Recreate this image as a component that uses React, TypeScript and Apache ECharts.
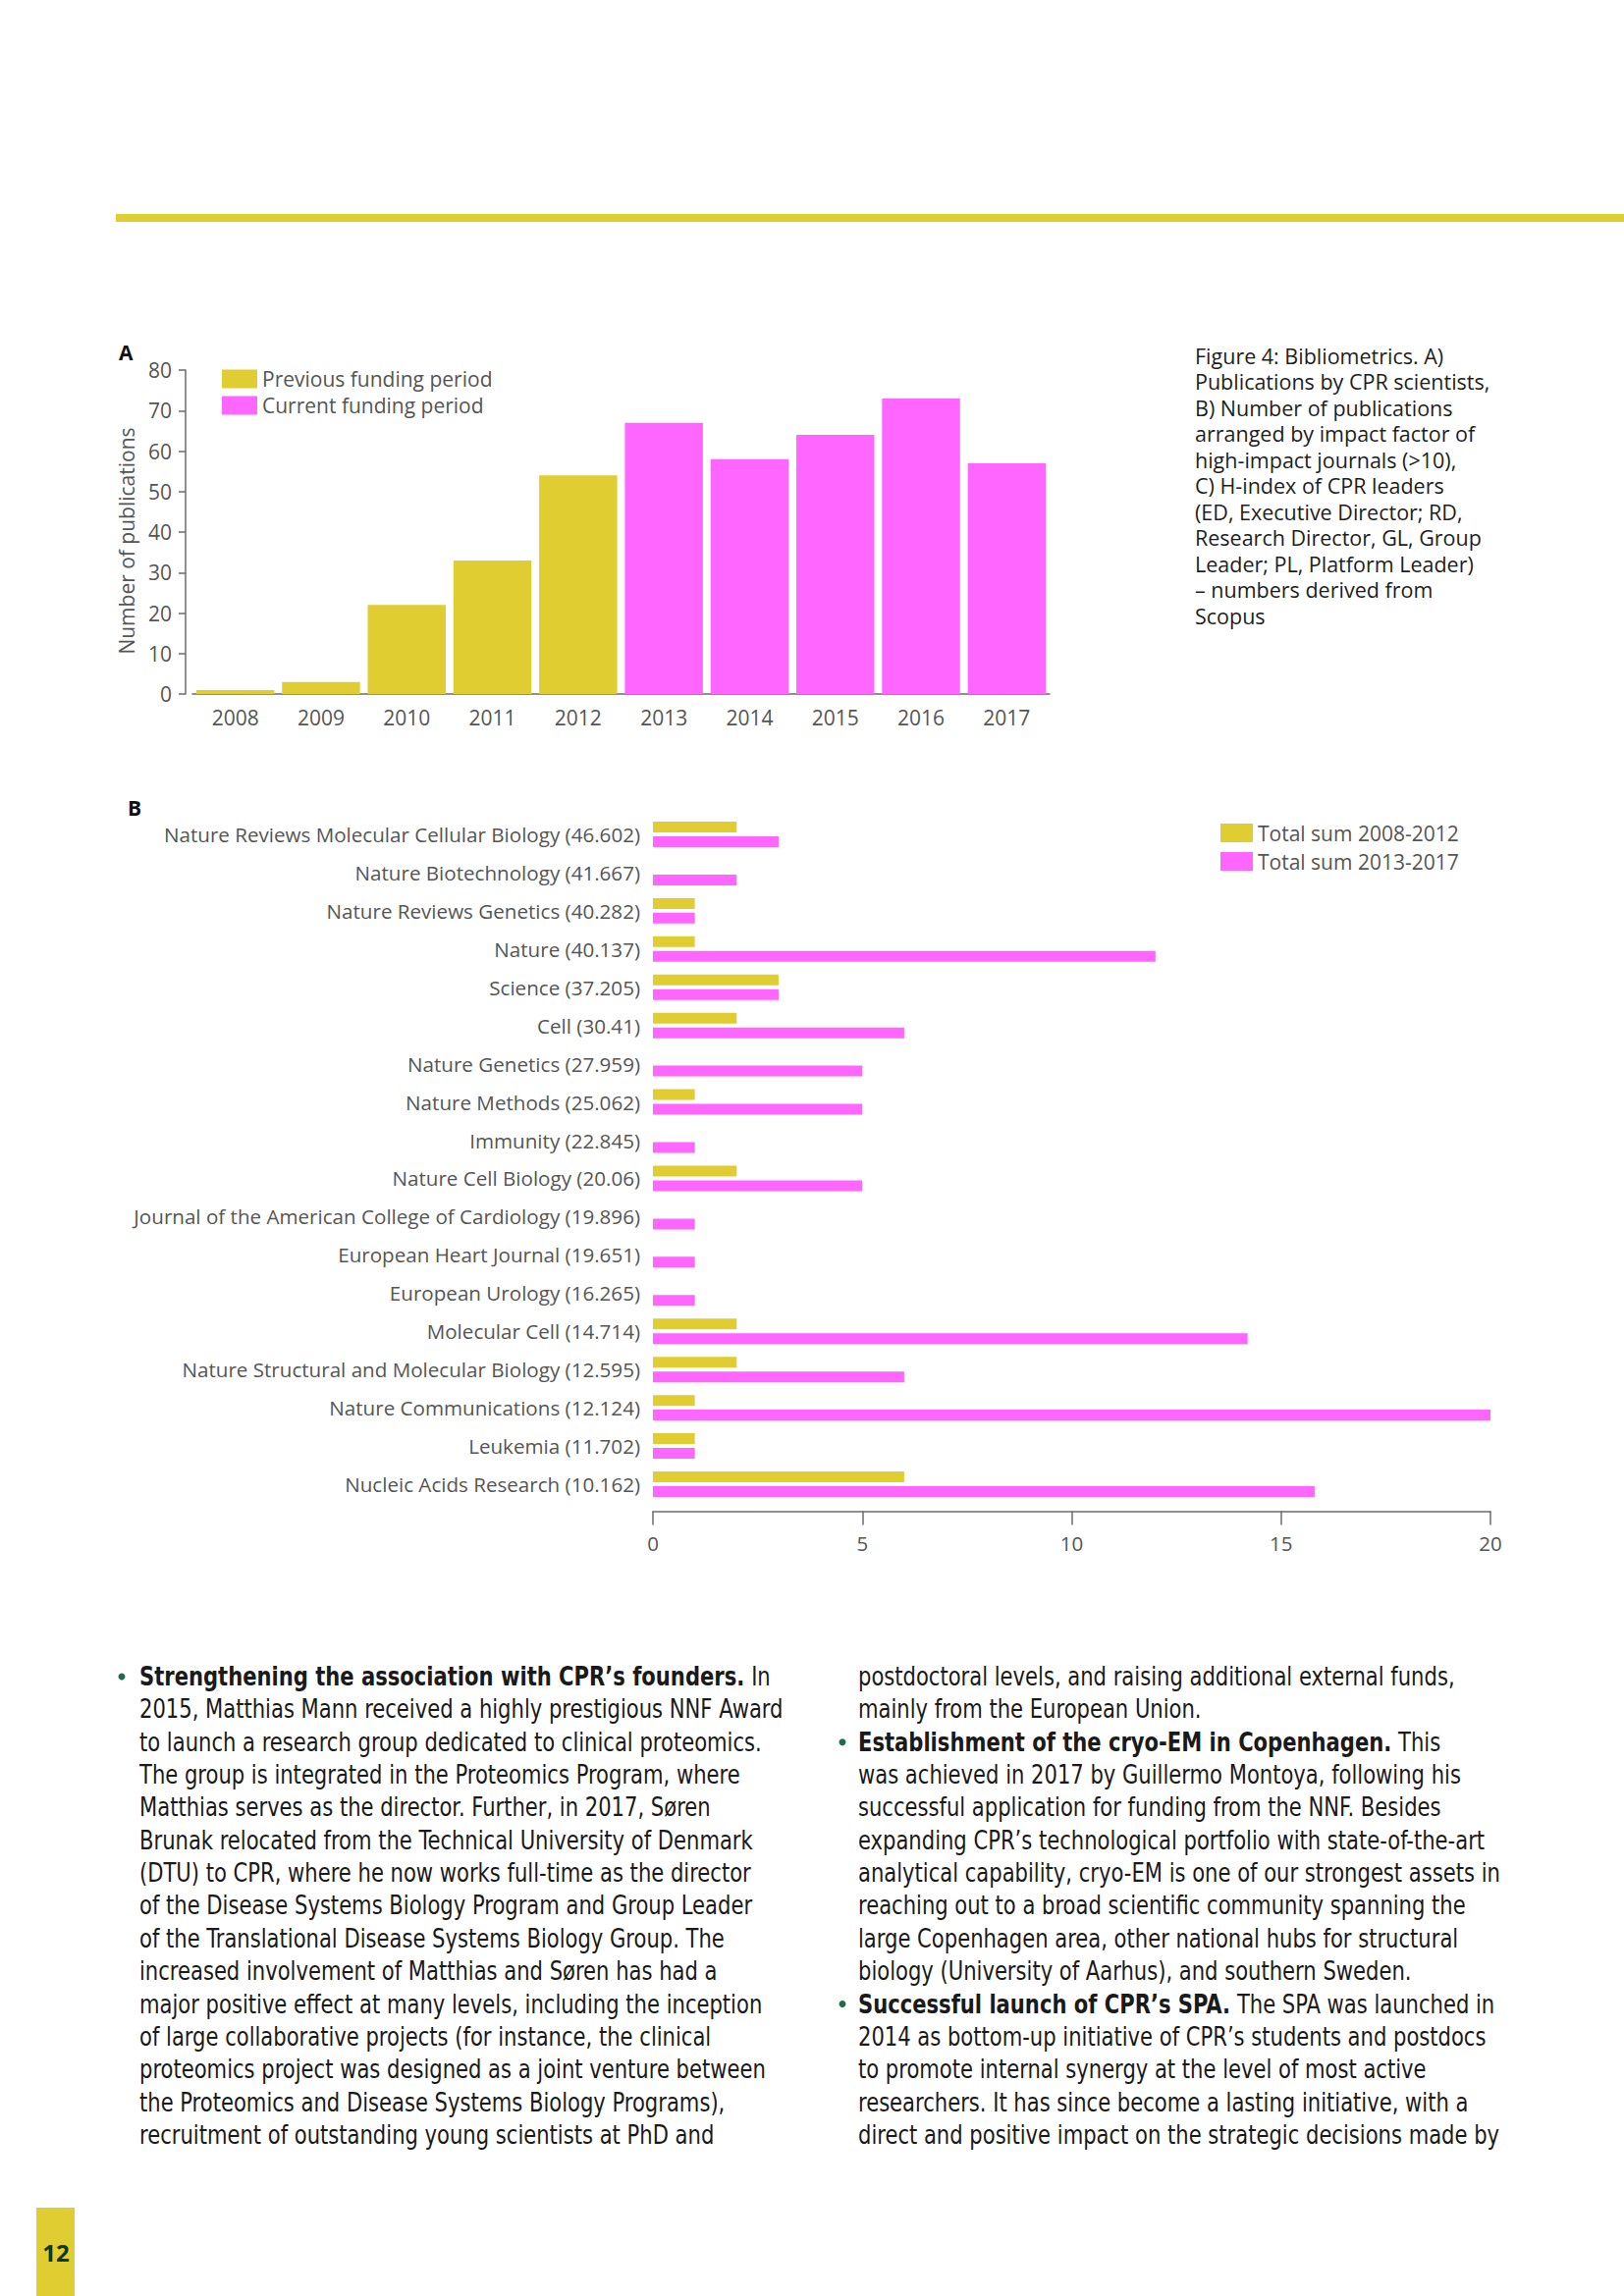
import React, { useEffect, useRef } from "react";
import * as echarts from "echarts";

// ---------- DATA ----------
const years = ["2008", "2009", "2010", "2011", "2012", "2013", "2014", "2015", "2016", "2017"];
const previousPeriod = [1, 3, 22, 33, 54, null, null, null, null, null];
const currentPeriod = [null, null, null, null, null, 67, 58, 64, 73, 57];

const journals = [
  "Nature Reviews Molecular Cellular Biology (46.602)",
  "Nature Biotechnology (41.667)",
  "Nature Reviews Genetics (40.282)",
  "Nature (40.137)",
  "Science (37.205)",
  "Cell (30.41)",
  "Nature Genetics (27.959)",
  "Nature Methods (25.062)",
  "Immunity (22.845)",
  "Nature Cell Biology (20.06)",
  "Journal of the American College of Cardiology (19.896)",
  "European Heart Journal (19.651)",
  "European Urology (16.265)",
  "Molecular Cell (14.714)",
  "Nature Structural and Molecular Biology (12.595)",
  "Nature Communications (12.124)",
  "Leukemia (11.702)",
  "Nucleic Acids Research (10.162)",
];
const sum2008to2012 = [2, 0, 1, 1, 3, 2, 0, 1, 0, 2, 0, 0, 0, 2, 2, 1, 1, 6];
const sum2013to2017 = [3, 2, 1, 12, 3, 6, 5, 5, 1, 5, 1, 1, 1, 14.2, 6, 20, 1, 15.8];

const captionLines = [
  "Figure 4: Bibliometrics. A)",
  "Publications by CPR scientists,",
  "B) Number of publications",
  "arranged by impact factor of",
  "high-impact journals (>10),",
  "C) H-index of CPR leaders",
  "(ED, Executive Director; RD,",
  "Research Director, GL, Group",
  "Leader; PL, Platform Leader)",
  "– numbers derived from",
  "Scopus",
];

const leftColumn = [
  "{b|Strengthening the association with CPR’s founders.} In",
  "2015, Matthias Mann received a highly prestigious NNF Award",
  "to launch a research group dedicated to clinical proteomics.",
  "The group is integrated in the Proteomics Program, where",
  "Matthias serves as the director. Further, in 2017, Søren",
  "Brunak relocated from the Technical University of Denmark",
  "(DTU) to CPR, where he now works full-time as the director",
  "of the Disease Systems Biology Program and Group Leader",
  "of the Translational Disease Systems Biology Group. The",
  "increased involvement of Matthias and Søren has had a",
  "major positive effect at many levels, including the inception",
  "of large collaborative projects (for instance, the clinical",
  "proteomics project was designed as a joint venture between",
  "the Proteomics and Disease Systems Biology Programs),",
  "recruitment of outstanding young scientists at PhD and",
];
const leftBullets = [0];

const rightColumn = [
  "postdoctoral levels, and raising additional external funds,",
  "mainly from the European Union.",
  "{b|Establishment of the cryo-EM in Copenhagen.} This",
  "was achieved in 2017 by Guillermo Montoya, following his",
  "successful application for funding from the NNF. Besides",
  "expanding CPR’s technological portfolio with state-of-the-art",
  "analytical capability, cryo-EM is one of our strongest assets in",
  "reaching out to a broad scientific community spanning the",
  "large Copenhagen area, other national hubs for structural",
  "biology (University of Aarhus), and southern Sweden.",
  "{b|Successful launch of CPR’s SPA.} The SPA was launched in",
  "2014 as bottom-up initiative of CPR’s students and postdocs",
  "to promote internal synergy at the level of most active",
  "researchers. It has since become a lasting initiative, with a",
  "direct and positive impact on the strategic decisions made by",
];
const rightBullets = [2, 10];

// ---------- STYLE ----------
const YELLOW = "#E0CD31";
const PINK = "#FF66FF";
const LABEL = "#555555";
const AXIS = "#6b6b6b";
const CHART_FONT = "'Open Sans', 'Noto Sans', sans-serif";
const BODY_FONT = "'DejaVu Sans Condensed', 'DejaVu Sans', sans-serif";
const BODY_SIZE = 26.5;
const BODY_SCALE_X = 0.885;
const BODY_TOP = 1708;
const BODY_STEP = 33.35;

function buildGraphics() {
  const g: any[] = [];
  g.push({ type: "rect", shape: { x: 118, y: 218, width: 1536, height: 8 }, style: { fill: YELLOW } });
  g.push({ type: "rect", shape: { x: 37, y: 2249, width: 39, height: 90 }, style: { fill: YELLOW } });
  g.push({
    type: "text", x: 57, y: 2294,
    style: { text: "12", fontSize: 24, fontWeight: "bold", fontFamily: CHART_FONT, fill: "#0b3a26", align: "center", verticalAlign: "middle" },
  });
  g.push({
    type: "text", x: 121, y: 359,
    style: { text: "A", fontSize: 21, fontWeight: "bold", fontFamily: CHART_FONT, fill: "#111", align: "left", verticalAlign: "middle" },
  });
  g.push({
    type: "text", x: 130, y: 823,
    style: { text: "B", fontSize: 21, fontWeight: "bold", fontFamily: CHART_FONT, fill: "#111", align: "left", verticalAlign: "middle" },
  });
  captionLines.forEach((line, i) => {
    g.push({
      type: "text", x: 1217, y: 362 + i * 26.5,
      style: { text: line, fontSize: 21.5, fontFamily: CHART_FONT, fill: "#1e1e1e", align: "left", verticalAlign: "middle" },
    });
  });
  const rich = { b: { fontWeight: "bold", fontSize: BODY_SIZE, fontFamily: BODY_FONT, fill: "#1a1a1a" } };
  const col = (lines: string[], bullets: number[], textX: number, bulletX: number) => {
    lines.forEach((line, i) => {
      const y = BODY_TOP + i * BODY_STEP;
      g.push({
        type: "text", x: textX, y, scaleX: BODY_SCALE_X,
        style: { text: line, rich, fontSize: BODY_SIZE, fontFamily: BODY_FONT, fill: "#1a1a1a", align: "left", verticalAlign: "middle" },
      });
    });
    bullets.forEach((i) => {
      g.push({ type: "circle", shape: { cx: bulletX, cy: BODY_TOP + i * BODY_STEP, r: 3.5 }, style: { fill: "#1f6b4a" } });
    });
  };
  col(leftColumn, leftBullets, 142, 124);
  col(rightColumn, rightBullets, 874, 858);
  return g;
}

function buildOption(): any {
  const labelStyle = { color: LABEL, fontFamily: CHART_FONT };
  return {
    animation: false,
    backgroundColor: "#ffffff",
    textStyle: { fontFamily: CHART_FONT },
    grid: [
      { left: 196, top: 377, width: 873, height: 330 },
      { left: 665, top: 830.5, width: 853, height: 701 },
    ],
    legend: [
      {
        data: ["Previous funding period", "Current funding period"],
        left: 221, top: 369, orient: "vertical", icon: "rect",
        itemWidth: 36, itemHeight: 19, itemGap: 3,
        textStyle: { ...labelStyle, fontSize: 21, lineHeight: 24 },
      },
      {
        data: ["Total sum 2008-2012", "Total sum 2013-2017"],
        left: 1238, top: 832, orient: "vertical", icon: "rect",
        itemWidth: 33, itemHeight: 19, itemGap: 6,
        textStyle: { ...labelStyle, fontSize: 21, lineHeight: 23 },
      },
    ],
    xAxis: [
      {
        gridIndex: 0, type: "category", data: years,
        axisLine: { lineStyle: { color: AXIS, width: 1.5 } },
        axisTick: { show: false },
        axisLabel: { ...labelStyle, fontSize: 21, margin: 13 },
      },
      {
        gridIndex: 1, type: "value", min: 0, max: 20, interval: 5, offset: 8,
        axisLine: { show: true, lineStyle: { color: AXIS, width: 1.5 } },
        axisTick: { show: true, length: 14, lineStyle: { color: AXIS, width: 1.5 } },
        axisLabel: { ...labelStyle, fontSize: 20.5, margin: 22 },
        splitLine: { show: false },
      },
    ],
    yAxis: [
      {
        gridIndex: 0, type: "value", min: 0, max: 80, interval: 10, offset: 7,
        name: "Number of publications", nameLocation: "middle", nameRotate: 90, nameGap: 50,
        nameTextStyle: { ...labelStyle, fontSize: 21, padding: [0, 18, 0, 0] },
        axisLine: { show: true, lineStyle: { color: AXIS, width: 1.5 } },
        axisTick: { show: true, length: 7, lineStyle: { color: AXIS, width: 1.5 } },
        axisLabel: { ...labelStyle, fontSize: 21, margin: 14 },
        splitLine: { show: false },
      },
      {
        gridIndex: 1, type: "category", data: journals, inverse: true,
        axisLine: { show: false },
        axisTick: { show: false },
        axisLabel: { ...labelStyle, fontSize: 20.6, margin: 13 },
      },
    ],
    series: [
      {
        name: "Previous funding period", type: "bar", xAxisIndex: 0, yAxisIndex: 0,
        data: previousPeriod, itemStyle: { color: YELLOW },
        barGap: "-100%", barCategoryGap: "9%",
      },
      {
        name: "Current funding period", type: "bar", xAxisIndex: 0, yAxisIndex: 0,
        data: currentPeriod, itemStyle: { color: PINK },
        barGap: "-100%", barCategoryGap: "9%",
      },
      {
        name: "Total sum 2008-2012", type: "bar", xAxisIndex: 1, yAxisIndex: 1,
        data: sum2008to2012, itemStyle: { color: YELLOW },
        barWidth: 11, barGap: "36%",
      },
      {
        name: "Total sum 2013-2017", type: "bar", xAxisIndex: 1, yAxisIndex: 1,
        data: sum2013to2017, itemStyle: { color: PINK },
        barWidth: 11, barGap: "36%",
      },
    ],
    graphic: buildGraphics(),
  };
}

export default function App() {
  const ref = useRef<HTMLDivElement>(null);
  useEffect(() => {
    if (!ref.current) return;
    const chart = echarts.init(ref.current, null, { renderer: "svg" });
    chart.setOption(buildOption());
    return () => chart.dispose();
  }, []);
  return (
    <div style={{ position: "absolute", left: 0, top: 0, width: 1654, height: 2339, background: "#fff" }}>
      <div ref={ref} style={{ width: 1654, height: 2339 }} />
    </div>
  );
}
